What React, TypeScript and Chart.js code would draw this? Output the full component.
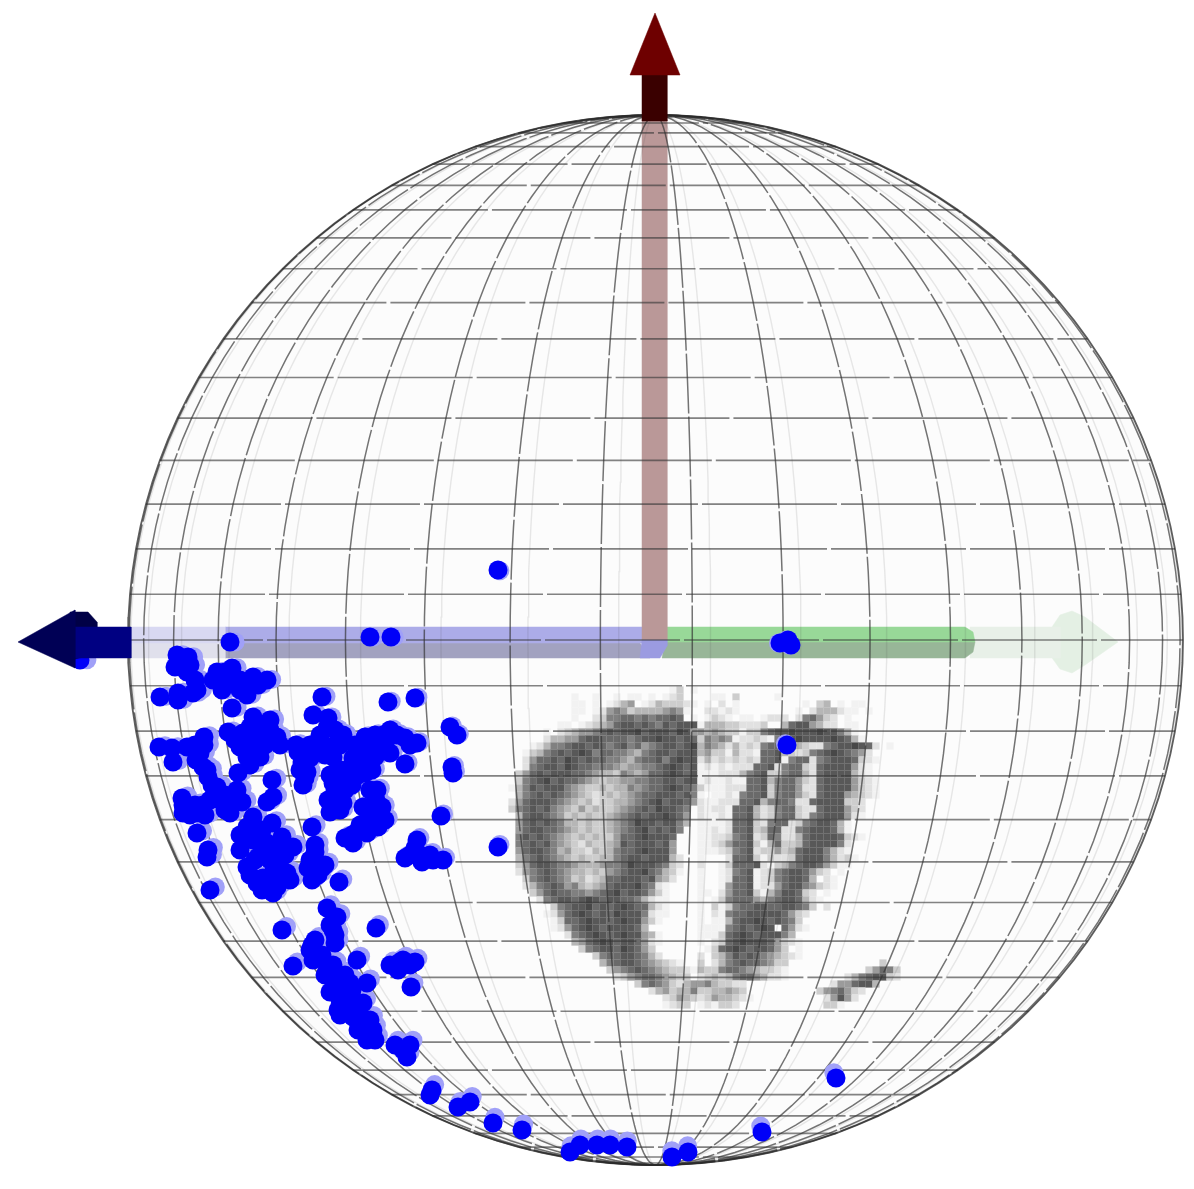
import React, { useEffect, useRef } from "react";
import { Chart, registerables } from "chart.js";

Chart.register(...registerables);

type P = { x: number; y: number };
const pts = (a: number[][]): P[] => a.map(([x, y]) => ({ x, y }));

const WIDTH = 1194;
const HEIGHT = 1189;

// Sphere outline
const sphereCentre = [655.5, 640];
const sphereRadiusX = 527.5;
const sphereRadiusY = 525;

// Graticule
const parallelLatitudes = [-85, -80, -75, -70, -65, -60, -55, -50, -45, -40, -35, -30, -25, -20, -15, -10, -5, 0, 5, 10, 15, 20, 25, 30, 35, 40, 45, 50, 55, 60, 65, 70, 75, 80, 85];
const meridianLongitudes = [-86, -76, -66, -56, -46, -36, -26, -16, -6, 4, 14, 24, 34, 44, 54, 64, 74, 84];

// Blue sample points
const samplePoints = [
  [498, 570], [230, 642], [370, 637], [391, 637], [780, 643], [788, 640], [791, 645], [787, 745], [498, 847], [836, 1078], [762, 1132], [80, 660],
  [177, 655], [188, 657], [175, 667], [187, 672], [195, 680], [193, 693], [178, 693], [178, 700], [160, 697],
  [217, 672], [232, 668], [213, 680], [222, 690], [230, 682], [253, 677], [267, 680], [247, 687], [247, 695], [232, 708],
  [322, 697], [388, 702], [415, 698], [450, 727], [457, 735], [452, 767], [453, 773],
  [313, 715], [328, 718], [327, 728], [253, 717], [270, 720], [228, 732], [243, 733], [257, 737], [277, 737], [240, 747], [257, 747], [247, 757], [260, 757],
  [343, 735], [317, 743], [330, 747], [333, 757], [298, 752], [302, 762], [307, 772], [303, 785],
  [365, 737], [383, 735], [397, 735], [417, 743], [363, 747], [377, 747], [390, 753], [353, 758], [367, 760], [365, 773], [405, 764],
  [159, 747], [172, 748], [173, 762], [187, 747], [204, 737], [200, 753], [203, 767], [208, 777],
  [238, 773], [272, 780], [273, 797], [267, 802], [217, 787], [220, 800], [237, 790], [242, 802],
  [333, 783], [347, 780], [337, 797], [343, 803], [330, 812], [377, 790], [382, 807], [363, 807], [378, 827],
  [182, 798], [203, 805], [183, 813], [197, 813], [230, 813], [253, 817], [441, 816], [197, 833], [207, 857], [208, 850], [210, 890],
  [247, 827], [272, 823], [312, 827], [357, 832], [353, 843], [367, 833],
  [240, 850], [253, 840], [258, 857], [267, 843], [282, 837], [293, 847], [277, 850],
  [315, 852], [308, 868], [322, 868], [312, 880], [339, 882],
  [247, 867], [257, 883], [273, 873], [287, 873], [267, 887], [277, 887], [273, 893],
  [417, 840], [405, 858], [422, 862], [433, 860], [443, 860],
  [282, 930], [376, 928], [327, 908], [337, 917], [333, 930], [335, 943], [310, 950], [315, 940], [293, 966],
  [313, 960], [327, 970], [340, 980], [357, 960], [390, 965], [403, 960], [415, 962], [411, 987],
  [350, 983], [367, 983], [330, 992], [340, 1000], [340, 1015], [353, 1017], [363, 1003], [370, 1020], [373, 1030], [367, 1040], [403, 1050], [407, 1057],
  [430, 1095], [432, 1090], [458, 1107], [470, 1102], [493, 1123], [522, 1130],
  [570, 1152], [580, 1145], [597, 1145], [610, 1145], [627, 1147], [672, 1157], [688, 1152],
  [195, 745], [204, 745], [196, 760], [207, 770], [212, 785], [225, 795],
  [235, 740], [250, 727], [262, 727], [250, 745], [265, 745], [270, 730], [280, 745], [250, 765],
  [182, 662], [190, 665], [197, 690], [221, 678], [225, 672], [240, 680], [240, 690], [258, 685],
  [296, 745], [300, 770], [310, 758], [305, 778], [310, 745], [320, 735], [323, 745], [335, 730], [340, 745], [325, 755],
  [330, 775], [340, 770], [350, 775], [335, 790], [345, 790], [328, 800], [340, 810], [352, 785],
  [375, 735], [390, 730], [405, 738], [410, 745], [355, 745], [370, 740], [385, 745], [375, 757], [360, 770], [358, 775], [350, 768], [372, 770],
  [376, 800], [370, 815], [385, 820], [370, 790],
  [183, 805], [190, 815], [205, 815], [195, 805], [210, 800], [225, 810], [228, 800],
  [250, 835], [262, 830], [240, 835], [255, 860], [270, 860], [285, 855], [265, 850], [280, 845], [263, 878], [250, 875], [280, 870], [270, 880], [262, 890], [290, 880],
  [310, 860], [318, 875], [315, 845], [325, 865],
  [360, 825], [345, 838], [352, 835],
  [410, 855], [430, 855], [420, 855], [415, 848],
  [330, 925], [335, 935], [312, 945], [322, 955], [333, 965], [345, 975], [325, 975], [335, 985], [348, 990], [345, 1008], [355, 1005], [360, 1015], [365, 1025], [350, 1000],
  [375, 1040], [370, 1035], [358, 1030], [395, 1045], [410, 1045], [400, 962], [398, 970], [410, 965], [352, 990], [338, 1010], [342, 992],
];

// Density map, one string per row, digits are grey levels; split at the column between the two lobes
const densityOrigin = [505, 690];
const densityCell = 7;
const densityLeft = [
  "........................13.1",
  "..........1..1..1.11.1.123..",
  "..........11.1.1245.12433321",
  "..........11.12565344445651.",
  "..........1..2366776767787.1",
  "........11.12345788787687888",
  "......1.23455678788978887985",
  "......24455788777767889887878",
  "....12466788787678675678878987",
  "...1346787898677665467887888",
  "...25778798787766546778689887",
  "...26788798776665455667898787",
  "..357878887765443654577898786",
  "..367897877654344556677887887",
  ".1468788865433434465677898763",
  "..46787876543234345677888786",
  ".257888765434233445678978875",
  ".36787865435343345678798876",
  "..4788765343433456787889875",
  "..5787876443433456798878864",
  "..578877654343345678978786",
  "..68787654343433577898887",
  "..67878654324334587888785",
  "..57887645332434677898885",
  "..467876543433446788788842",
  "..357887665444566798887632",
  "..256787654434356788976431",
  "...3678765342347788878542",
  "...246787564345788897621",
  "....35787766567897887531",
  ".....2678878987887764211",
  ".......36788978789877421",
  "......125789878798886211",
  ".......1377898878988531",
  ".......12578987888874",
  ".........26789878988541",
  "..........4578987887521",
  "...........36788798753",
  ".............3677887642",
  "..............467887654321",
  "...............3567876543321",
  "................23567765433",
  "...................367653245",
  ".....................2453446",
  ".......................23543",
  ".......................1233",
];
const densityRight = [
  "..............................",
  "..11.3.....1..................",
  ".1.2.1.........1.34.1.11......",
  ".22121........1.2444211.1.....",
  ".1321.11.1222.267532.1........",
  "1444332223..47885422.11.......",
  "54543313367889888988641.......",
  "365651223216789888898741......",
  "46542423267786432267889872.1..",
  "4533142217784323678987652.....",
  "24232323277816772678887321....",
  "1212122277826773278888521.....",
  "1112224678336774278888421.....",
  "12112117784677532788885321....",
  "31112227783677522788885321....",
  "1.112167783677532788854321....",
  "211222778467762278888332......",
  "212217784236773227888532......",
  "211217784236773267888521......",
  "1111277832677236788741........",
  "1121277834772267888741........",
  "112236782376224788887321......",
  "1123577831473347888862........",
  "1112367823353478886421........",
  "1...2778313223788864231.......",
  "2..1377782134678875311........",
  "1..1267812367887532.1.........",
  "1..12778123678874.21..........",
  "1..15778122578865321..........",
  "11.25778314688732.1...........",
  "1.1367775467887421............",
  "1.313677887788763.2...........",
  "1.21677888887532..............",
  "1.1147889878763...............",
  "11116787898.7521..............",
  "11137898788864................",
  "1.2378988875321...............",
  ".137898788753.1...............",
  "2.3468787654321...............",
  "3.24678776533.............3...",
  "4336776543321...........35763.",
  "2343467754221........24678832.",
  "5643322............2557884....",
  "3344543..........3567532......",
  "23544321..........25852.......",
  "121332............331.........",
];
const densityGreys = [255, 242, 225, 205, 182, 155, 128, 106, 88, 72];

// Arrow shapes
const redBand = [[642, 120], [667, 120], [667, 640], [642, 640]];
const redShaft = [[642, 75], [667, 75], [667, 121], [642, 121]];
const redCone = [[655, 13], [680, 75], [630, 75]];
const blueBandInnerTop = [[225, 627], [655, 627], [655, 643], [225, 643]];
const blueBandInnerBottom = [[225, 643], [640, 643], [650, 658], [225, 658]];
const blueBandOuterTop = [[130, 627], [225, 627], [225, 643], [130, 643]];
const blueBandOuterBottom = [[130, 643], [225, 643], [225, 658], [130, 658]];
const centreTail = [[642, 640], [667, 640], [667, 646], [660, 658], [640, 658]];
const blueShaft = [[75, 627], [131, 627], [131, 658], [75, 658]];
const blueConeBack = [[70, 612], [88, 612], [97, 622], [97, 654], [88, 656], [70, 660]];
const blueCone = [[18, 642], [75, 610], [75, 668]];
const greenBandTop = [[667, 627], [965, 627], [973, 632], [975, 642], [667, 642]];
const greenBandBottom = [[665, 642], [975, 642], [973, 652], [965, 658], [662, 658]];
const greenFadeShaft = [[970, 627], [1060, 627], [1060, 658], [970, 658]];
const greenFadeCone = [[1050, 630], [1060, 615], [1072, 611], [1085, 617], [1118, 642], [1085, 665], [1072, 673], [1060, 669], [1050, 655]];

const poly = (a: number[][], color: string, order: number) => ({
  data: pts([...a, a[0]]),
  showLine: true,
  fill: "shape",
  backgroundColor: color,
  borderColor: color,
  borderWidth: 0.5,
  pointRadius: 0,
  tension: 0,
  order,
});

const latSteps: number[] = [];
for (let la = -90; la <= 90; la += 2.5) latSteps.push(la);
const rad = (d: number) => (d * Math.PI) / 180;
const meridian = (lon: number): P[] =>
  latSteps.map((la) => ({
    x: sphereCentre[0] + sphereRadiusX * Math.sin(rad(lon)) * Math.cos(rad(la)),
    y: sphereCentre[1] - sphereRadiusY * Math.sin(rad(la)),
  }));
const parallel = (la: number): P[] => [
  { x: sphereCentre[0] - sphereRadiusX * Math.cos(rad(la)), y: sphereCentre[1] - sphereRadiusY * Math.sin(rad(la)) },
  { x: sphereCentre[0] + sphereRadiusX * Math.cos(rad(la)), y: sphereCentre[1] - sphereRadiusY * Math.sin(rad(la)) },
];
const lineSet = (data: P[], color: string, width: number, dash: number[], order: number) => ({
  data,
  showLine: true,
  fill: false,
  borderColor: color,
  borderWidth: width,
  borderDash: dash,
  pointRadius: 0,
  tension: 0,
  order,
});

function densityCells() {
  const data: P[] = [];
  const colors: string[] = [];
  densityLeft.forEach((l, r) => {
    const row = l.padEnd(28, ".").slice(0, 28) + densityRight[r];
    [...row].forEach((ch, c) => {
      const v = parseInt(ch, 10);
      if (!v) return;
      data.push({ x: densityOrigin[0] + densityCell * c, y: densityOrigin[1] + densityCell * r });
      const g = densityGreys[v];
      colors.push(`rgb(${g},${g},${g})`);
    });
  });
  return { data, colors };
}

export default function App() {
  const ref = useRef<HTMLCanvasElement>(null);
  useEffect(() => {
    const ctx = ref.current!;
    const cells = densityCells();
    const dots = pts(samplePoints);
    const halos = dots.map((p) => ({
      x: sphereCentre[0] + (p.x - sphereCentre[0]) * 0.988,
      y: sphereCentre[1] + (p.y - sphereCentre[1]) * 0.988,
    }));
    const outline = [...meridian(90), ...meridian(-90).reverse()];
    const datasets: any[] = [
      poly(outline.map((p) => [p.x, p.y]), "rgb(252,252,252)", 100),
      {
        data: cells.data,
        pointStyle: "rect",
        pointRadius: 5.1,
        pointBorderWidth: 0,
        pointBackgroundColor: cells.colors,
        order: 90,
      },
      poly(redBand, "rgb(186,152,152)", 80),
      poly(blueBandOuterTop, "rgb(216,216,242)", 81),
      poly(blueBandOuterBottom, "rgb(224,224,236)", 81),
      poly(blueBandInnerTop, "rgb(172,172,232)", 81),
      poly(blueBandInnerBottom, "rgb(162,162,192)", 81),
      poly(centreTail, "rgb(155,155,225)", 79),
      poly(greenBandTop, "rgb(152,216,152)", 81),
      poly(greenBandBottom, "rgb(152,182,152)", 81),
      poly(greenFadeShaft, "rgb(232,240,232)", 82),
      poly(greenFadeCone, "rgb(228,240,228)", 82),
      ...meridianLongitudes.map((lon) => lineSet(meridian(-lon), "rgba(70,70,70,0.12)", 1.4, [], 72)),
      ...parallelLatitudes.map((la) => lineSet(parallel(la), "rgba(55,55,55,0.62)", 1.7, [135, 4], 71)),
      ...meridianLongitudes.map((lon) => lineSet(meridian(lon), "rgba(50,50,50,0.68)", 1.5, [60, 3], 70)),
      lineSet(outline, "rgba(40,40,40,0.75)", 1.8, [], 69),
      { data: halos, pointRadius: 9.5, pointBorderWidth: 0, pointBackgroundColor: "rgb(160,160,248)", order: 60 },
      { data: dots, pointRadius: 9.5, pointBorderWidth: 0, pointBackgroundColor: "rgb(0,0,248)", order: 50 },
      poly(redShaft, "rgb(58,0,0)", 40),
      poly(redCone, "rgb(110,0,0)", 39),
      poly(blueConeBack, "rgb(0,0,70)", 41),
      poly(blueShaft, "rgb(0,0,130)", 38),
      poly(blueCone, "rgb(0,0,85)", 37),
    ];
    const chart = new Chart(ctx, {
      type: "scatter",
      data: { datasets },
      options: {
        animation: false,
        responsive: false,
        devicePixelRatio: 1,
        layout: { padding: 0, autoPadding: false },
        clip: false,
        scales: {
          x: { type: "linear", min: 0, max: WIDTH, display: false },
          y: { type: "linear", min: 0, max: HEIGHT, reverse: true, display: false },
        },
        plugins: {
          legend: { display: false },
          tooltip: { enabled: false },
          filler: { drawTime: "beforeDatasetDraw" },
        },
      },
    } as any);
    return () => chart.destroy();
  }, []);
  return (
    <div style={{ position: "absolute", left: 0, top: 0, width: WIDTH, height: HEIGHT, background: "#fff" }}>
      <canvas ref={ref} width={WIDTH} height={HEIGHT} style={{ display: "block", filter: "blur(0.6px)" }} />
    </div>
  );
}
